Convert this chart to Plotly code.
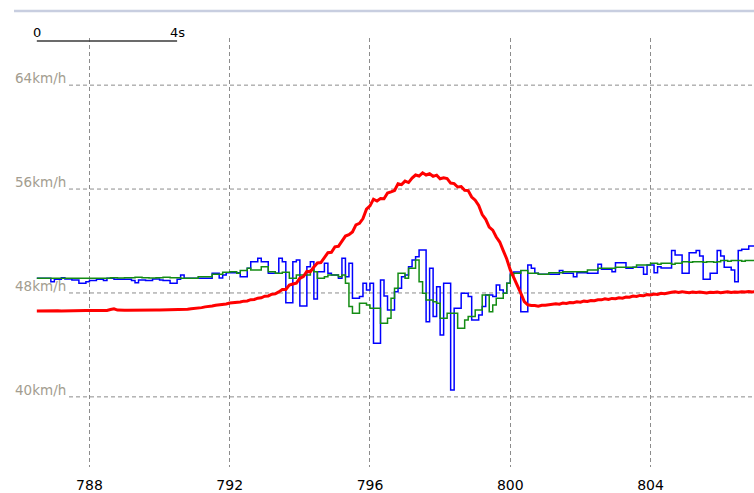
import plotly.graph_objects as go

# ---- data (km/h), sampled every 0.1 s starting at t = 786.5 s ----
t_start = 786.5
t_step = 0.1

blue_speed = [
    49.13, 49.13, 49.13, 49.13, 48.87, 49.05, 49.05, 49.18, 49.08, 49.08,
    49.00, 49.00, 48.75, 48.75, 48.87, 48.95, 48.95, 49.05, 49.05, 48.95,
    49.13, 49.13, 49.05, 49.05, 49.05, 49.05, 49.05, 48.95, 48.79, 49.00,
    49.00, 48.95, 48.95, 49.08, 49.08, 49.00, 48.95, 48.95, 48.75, 48.75,
    49.05, 49.39, 49.13, 49.13, 49.13, 49.13, 49.13, 49.13, 49.13, 49.13,
    49.52, 49.52, 49.15, 49.39, 49.56, 49.56, 49.56, 49.56, 49.25, 49.25,
    49.90, 50.41, 50.41, 50.67, 50.41, 50.41, 49.52, 49.52, 49.52, 50.67,
    50.41, 47.25, 47.25, 50.41, 50.54, 47.00, 47.00, 50.02, 50.41, 47.54,
    49.64, 49.64, 50.29, 49.52, 49.39, 49.39, 49.13, 50.67, 49.25, 50.29,
    47.59, 47.59, 47.72, 48.75, 48.23, 48.75, 44.13, 44.13, 49.00, 47.77,
    46.69, 46.69, 48.10, 48.36, 49.25, 49.39, 50.02, 50.54, 50.79, 51.31,
    51.31, 45.79, 49.90, 46.18, 48.48, 44.77, 48.75, 48.75, 40.53, 46.82,
    46.82, 47.98, 47.98, 47.72, 45.92, 45.92, 46.31, 46.95, 47.85, 47.85,
    47.72, 48.62, 48.23, 47.98, 48.75, 49.52, 49.62, 49.62, 46.56, 46.56,
    50.16, 49.90, 49.52, 49.44, 49.44, 49.44, 49.44, 49.44, 49.44, 49.72,
    49.52, 49.52, 49.52, 49.25, 49.56, 49.56, 49.56, 49.52, 49.52, 49.52,
    50.21, 49.82, 49.82, 49.82, 49.64, 50.33, 50.33, 50.33, 49.90, 49.90,
    49.98, 49.98, 49.98, 49.44, 50.16, 50.16, 49.56, 50.02, 49.92, 49.92,
    49.92, 51.26, 50.93, 50.93, 49.52, 49.52, 51.10, 51.10, 51.26, 50.85,
    49.05, 49.05, 49.52, 49.52, 51.26, 50.85, 49.98, 49.98, 49.77, 48.87,
    51.26, 51.36, 51.36, 51.62, 51.62, 51.62,
]

green_speed = [
    49.13, 49.13, 49.13, 49.13, 49.13, 49.13, 49.13, 49.13, 49.13, 49.13,
    49.13, 49.13, 49.13, 49.13, 49.13, 49.13, 49.13, 49.13, 49.13, 49.13,
    49.13, 49.18, 49.18, 49.15, 49.15, 49.18, 49.18, 49.18, 49.20, 49.20,
    49.18, 49.18, 49.15, 49.15, 49.18, 49.18, 49.20, 49.20, 49.18, 49.18,
    49.18, 49.13, 49.13, 49.13, 49.13, 49.13, 49.25, 49.25, 49.25, 49.25,
    49.44, 49.44, 49.44, 49.59, 49.59, 49.64, 49.64, 49.52, 49.72, 49.72,
    49.90, 49.77, 49.77, 49.77, 50.02, 50.02, 49.64, 49.64, 49.52, 49.52,
    49.59, 49.59, 49.13, 49.13, 49.39, 49.39, 49.39, 49.39, 49.77, 49.64,
    49.13, 49.13, 49.25, 49.39, 49.39, 49.39, 49.25, 49.39, 48.75, 46.95,
    46.44, 46.44, 47.21, 47.21, 47.08, 46.82, 46.82, 46.82, 45.67, 45.67,
    46.05, 47.59, 48.36, 49.52, 49.52, 49.13, 49.90, 49.90, 50.54, 48.87,
    47.98, 47.46, 47.46, 47.33, 47.21, 46.05, 46.05, 46.44, 46.44, 46.44,
    45.28, 45.28, 45.92, 46.18, 46.18, 46.69, 46.69, 47.85, 47.85, 46.56,
    47.08, 47.59, 47.59, 47.98, 48.75, 49.39, 49.52, 49.52, 49.72, 49.72,
    49.52, 49.52, 49.52, 49.44, 49.44, 49.44, 49.56, 49.56, 49.56, 49.56,
    49.64, 49.64, 49.64, 49.64, 49.64, 49.64, 49.64, 49.77, 49.77, 49.77,
    49.90, 49.90, 49.90, 49.90, 49.90, 49.98, 49.98, 49.98, 49.98, 49.98,
    49.98, 50.16, 50.16, 50.16, 50.16, 50.29, 50.29, 50.21, 50.29, 50.29,
    50.29, 50.21, 50.29, 50.29, 50.41, 50.41, 50.36, 50.41, 50.41, 50.41,
    50.36, 50.41, 50.41, 50.36, 50.41, 50.49, 50.49, 50.44, 50.49, 50.49,
    50.49, 50.44, 50.49, 50.49, 50.49, 50.49,
]

red_speed = [
    46.61, 46.62, 46.61, 46.62, 46.62, 46.62, 46.63, 46.62, 46.63, 46.63,
    46.63, 46.64, 46.63, 46.64, 46.64, 46.64, 46.65, 46.64, 46.65, 46.65,
    46.65, 46.72, 46.78, 46.68, 46.65, 46.66, 46.66, 46.67, 46.66, 46.67,
    46.67, 46.68, 46.67, 46.68, 46.69, 46.68, 46.69, 46.70, 46.69, 46.70,
    46.71, 46.70, 46.74, 46.74, 46.79, 46.80, 46.85, 46.87, 46.93, 46.94,
    46.99, 47.05, 47.07, 47.13, 47.15, 47.22, 47.24, 47.30, 47.31, 47.37,
    47.38, 47.48, 47.50, 47.60, 47.63, 47.75, 47.77, 47.90, 47.93, 48.08,
    48.26, 48.27, 48.61, 48.69, 48.75, 49.13, 49.26, 49.66, 49.64, 50.00,
    50.31, 50.34, 50.73, 51.10, 51.13, 51.55, 51.59, 52.04, 52.38, 52.49,
    52.70, 53.24, 53.36, 53.73, 54.45, 54.70, 55.22, 55.08, 55.27, 55.25,
    55.70, 55.78, 55.89, 56.41, 56.34, 56.61, 56.50, 56.84, 57.08, 57.00,
    57.25, 57.08, 57.18, 56.98, 57.07, 56.79, 56.86, 56.80, 56.46, 56.42,
    56.16, 56.19, 55.90, 55.88, 55.39, 55.14, 54.73, 54.03, 53.67, 53.07,
    52.84, 52.31, 51.92, 51.26, 50.62, 49.77, 49.20, 48.60, 47.98, 47.33,
    47.09, 47.03, 47.04, 46.98, 47.05, 47.06, 47.10, 47.09, 47.16, 47.14,
    47.22, 47.19, 47.27, 47.25, 47.32, 47.29, 47.37, 47.34, 47.42, 47.40,
    47.48, 47.47, 47.55, 47.50, 47.58, 47.56, 47.63, 47.60, 47.69, 47.67,
    47.76, 47.73, 47.81, 47.78, 47.87, 47.84, 47.91, 47.88, 47.97, 47.94,
    48.01, 48.05, 48.09, 48.03, 48.10, 48.06, 48.02, 48.07, 48.04, 48.08,
    48.02, 48.00, 48.06, 48.03, 48.07, 48.01, 48.05, 48.09, 48.04, 48.08,
    48.06, 48.10, 48.07, 48.11, 48.08, 48.10,
]

x_ticks = [788, 792, 796, 800, 804]
y_ticks = [40, 48, 56, 64]
y_tick_labels = ["40km/h", "48km/h", "56km/h", "64km/h"]
scale_len = 4
scale_labels = ["0", "4s"]


def times(n):
    return [round(t_start + t_step * i, 2) for i in range(n)]


W, H = 754, 493
M_T, M_B = 38, 26
PH = H - M_T - M_B

fig = go.Figure()
fig.add_trace(go.Scatter(x=times(len(blue_speed)), y=blue_speed, mode="lines",
                         line=dict(color="#0000ff", width=1.5, shape="hv"),
                         hoverinfo="skip"))
fig.add_trace(go.Scatter(x=times(len(green_speed)), y=green_speed, mode="lines",
                         line=dict(color="#148c14", width=1.5, shape="hv"),
                         hoverinfo="skip"))
fig.add_trace(go.Scatter(x=times(len(red_speed)), y=red_speed, mode="lines",
                         line=dict(color="#ff0000", width=3),
                         hoverinfo="skip"))

shapes = []
label_end = 69 / W
for yv in y_ticks:
    shapes.append(dict(type="line", xref="paper", yref="y", x0=label_end, x1=1,
                       y0=yv, y1=yv, layer="below",
                       line=dict(color="#8c8c8c", width=1, dash="4px,3px")))
# top band of the window
top_y = 1 + 27 / PH
shapes.append(dict(type="line", xref="paper", yref="paper", x0=14 / W, x1=1,
                   y0=top_y, y1=top_y, line=dict(color="#c8cee0", width=2.5)))
# scale bar
bar_y = 1 - 3 / PH
shapes.append(dict(type="line", xref="x", yref="paper", x0=t_start, x1=t_start + scale_len,
                   y0=bar_y, y1=bar_y, line=dict(color="#3a3a3a", width=1.5)))

annotations = []
for yv, lab in zip(y_ticks, y_tick_labels):
    annotations.append(dict(xref="paper", yref="y", x=14 / W, y=yv, text=lab,
                            showarrow=False, xanchor="left", yanchor="bottom",
                            yshift=-2, borderpad=0,
                            font=dict(family="DejaVu Sans", size=13.5, color="#a39d8f")))
for xv, lab in zip([t_start, t_start + scale_len], scale_labels):
    annotations.append(dict(xref="x", yref="paper", x=xv, y=bar_y, text=lab,
                            showarrow=False, xanchor="center", yanchor="bottom",
                            yshift=0, borderpad=0,
                            font=dict(family="DejaVu Sans", size=13, color="#000000")))

fig.update_layout(
    width=W, height=H,
    margin=dict(l=0, r=0, t=M_T, b=M_B),
    paper_bgcolor="white", plot_bgcolor="white",
    showlegend=False,
    shapes=shapes, annotations=annotations,
    xaxis=dict(range=[785.45, 806.95], tickvals=x_ticks,
               ticktext=[str(v) for v in x_ticks],
               showgrid=True, gridcolor="#8c8c8c", gridwidth=1, griddash="4px,3px",
               zeroline=False, showline=False,
               ticks="outside", ticklen=5, tickcolor="rgba(0,0,0,0)",
               tickfont=dict(family="DejaVu Sans", size=14, color="#000000")),
    yaxis=dict(range=[34.60, 67.63], showgrid=False, zeroline=False,
               showticklabels=False, showline=False),
)

fig.write_html("out.html",
               config=dict(displayModeBar=False),
               post_script="document.body.style.margin='0px';document.body.style.overflow='hidden';")
